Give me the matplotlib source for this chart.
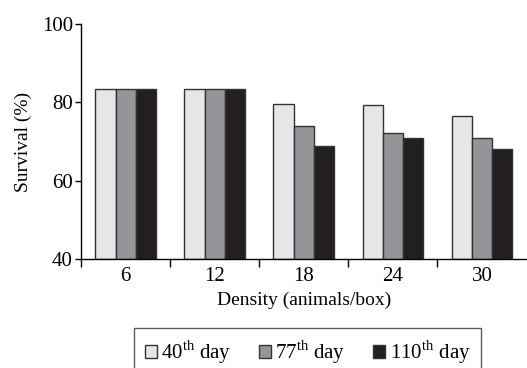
import numpy as np
import matplotlib
matplotlib.use("Agg")
import matplotlib.pyplot as plt

plt.rcParams["font.family"] = ["Liberation Serif", "DejaVu Serif"]
plt.rcParams["mathtext.fontset"] = "custom"
plt.rcParams["mathtext.rm"] = "Liberation Serif"

# data
densities = ["6", "12", "18", "24", "30"]
day40 = [83.4, 83.4, 79.6, 79.2, 76.6]
day77 = [83.4, 83.4, 73.9, 72.1, 71.0]
day110 = [83.4, 83.4, 68.8, 71.0, 68.0]
series_labels = [r"40$^{\mathrm{th}}$ day", r"77$^{\mathrm{th}}$ day", r"110$^{\mathrm{th}}$ day"]
colors = ["#e5e6e8", "#939598", "#231f20"]

fig = plt.figure(figsize=(5.27, 3.68), dpi=100)
ax = fig.add_axes([0.154, 0.296, 0.845, 0.639])

x = np.arange(len(densities))
w = 0.227
for i, vals in enumerate([day40, day77, day110]):
    ax.bar(x + (i - 1) * w, np.array(vals) - 40, width=w, bottom=40,
           color=colors[i], edgecolor="#333333", linewidth=1.0,
           label=series_labels[i])

ax.set_xlim(-0.5, 4.5)
ax.set_ylim(40, 100)
ax.set_yticks([40, 60, 80, 100])
# group boundaries carry the tick marks, labels sit at group centres
ax.set_xticks(np.arange(-0.5, 4.5, 1.0))
ax.set_xticklabels([])
ax.set_xticks(x, minor=True)
ax.set_xticklabels(densities, minor=True)
ax.tick_params(axis="x", which="minor", length=0, labelsize=15, pad=6)
ax.tick_params(axis="x", which="major", length=6, width=1)
ax.tick_params(axis="y", length=4, width=1, labelsize=15, pad=2)

for s in ["top", "right"]:
    ax.spines[s].set_visible(False)
for s in ["left", "bottom"]:
    ax.spines[s].set_linewidth(1)

ax.set_ylabel("Survival (%)", fontsize=14, labelpad=7)
ax.set_xlabel("Density (animals/box)", fontsize=14, labelpad=4)

leg = fig.legend(loc="upper center", bbox_to_anchor=(0.5835, 0.109), ncol=3,
                 fontsize=15, frameon=True, fancybox=False, handlelength=0.6,
                 handleheight=0.6, handletextpad=0.2, columnspacing=1.3,
                 borderpad=0.5, borderaxespad=0)
leg.get_frame().set_edgecolor("#333333")
leg.get_frame().set_linewidth(1)

fig.savefig("out.png", dpi=100)
